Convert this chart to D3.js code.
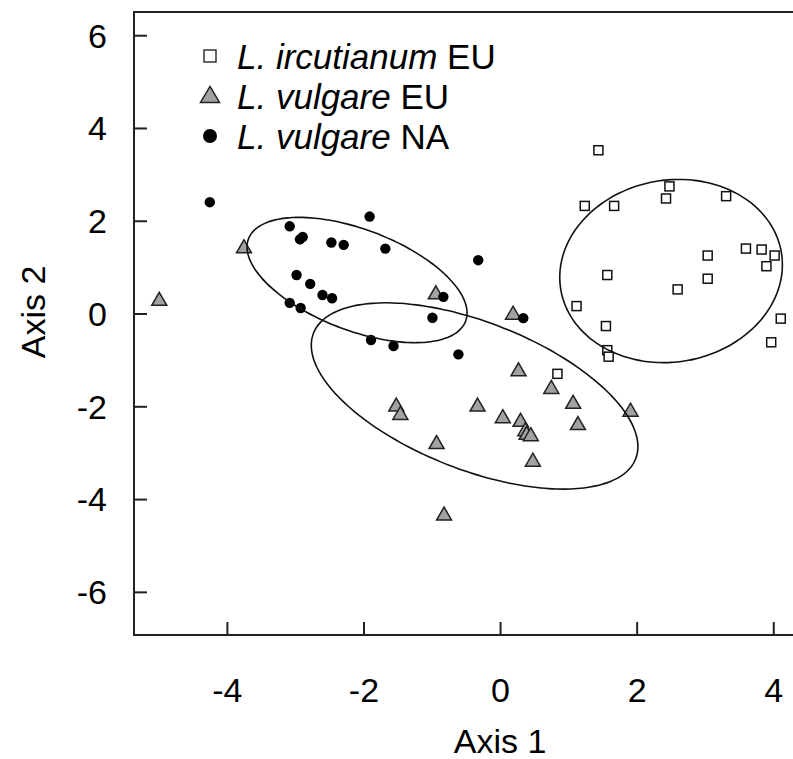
<!DOCTYPE html>
<html>
<head>
<meta charset="utf-8">
<script src="https://cdn.jsdelivr.net/npm/d3@7"></script>
<style>
  html, body { margin: 0; padding: 0; background: #fff; }
  svg { display: block; }
  text { font-family: "Liberation Sans", Arial, Helvetica, sans-serif; fill: #000; }
</style>
</head>
<body>
<svg id="chart" width="793" height="759"></svg>
<script>
// ---- data ----
const irX = [1.44,2.48,2.43,3.31,1.24,1.67,3.60,3.83,4.02,3.90,3.04,3.04,2.60,1.57,1.12,4.11,3.97,1.55,1.57,1.59,0.84];
const irY = [3.52,2.74,2.48,2.53,2.32,2.32,1.40,1.38,1.25,1.02,1.25,0.75,0.52,0.83,0.16,-0.11,-0.62,-0.27,-0.79,-0.93,-1.30];

const euX = [-4.99,-3.75,-0.94,0.19,0.27,0.75,1.07,1.91,1.14,-1.52,-1.46,-0.33,0.04,0.30,0.37,0.39,0.45,0.48,-0.93,-0.82];
const euY = [0.29,1.42,0.43,-0.01,-1.23,-1.61,-1.93,-2.10,-2.39,-1.99,-2.17,-1.99,-2.24,-2.32,-2.52,-2.60,-2.63,-3.18,-2.80,-4.34];

const naX = [-4.25,-3.08,-2.93,-2.89,-2.47,-2.29,-1.91,-1.68,-0.32,-2.98,-2.78,-2.60,-2.46,-3.08,-2.92,-0.83,-0.99,-1.89,-1.56,-0.61,0.34];
const naY = [2.40,1.88,1.60,1.65,1.53,1.48,2.09,1.40,1.15,0.83,0.64,0.40,0.33,0.23,0.12,0.36,-0.09,-0.57,-0.70,-0.88,-0.10];

// ellipses: center [x, y] and covariance [xx, xy, yy] in data units
const ellipseCenters = [[2.504, 0.916], [-0.373, -1.777], [-2.094, 0.722]];
const ellipseCov = [[2.656, 0.221, 3.898], [5.717, -2.611, 4.031], [2.594, -1.145, 1.824]];

const xTicks = [-4, -2, 0, 2, 4];
const yTicks = [-6, -4, -2, 0, 2, 4, 6];
const legendLabels = [
  { italic: "L. ircutianum", plain: " EU", shape: "square" },
  { italic: "L. vulgare", plain: " EU", shape: "triangle" },
  { italic: "L. vulgare", plain: " NA", shape: "dot" }
];
const xTitle = "Axis 1";
const yTitle = "Axis 2";

// ---- layout ----
const svg = d3.select("#chart");
const leftPx = 134, topPx = 12, bottomPx = 635, rightPx = 807.4;
const x = d3.scaleLinear().domain([-5.36, 4.5]).range([leftPx, rightPx]);
const y = d3.scaleLinear().domain([-6.93, 6.5]).range([bottomPx, topPx]);
const axisColor = "#222";
const fs = 34;

// frame (top, left, bottom; right side lies off-canvas)
svg.append("path")
  .attr("d", `M${rightPx},${topPx}H${leftPx}V${bottomPx}H${rightPx}`)
  .attr("fill", "none").attr("stroke", axisColor).attr("stroke-width", 2);

// axes
const gx = svg.append("g").attr("transform", `translate(0,${bottomPx})`)
  .call(d3.axisBottom(x).tickValues(xTicks).tickSize(-13).tickPadding(43));
const gy = svg.append("g").attr("transform", `translate(${leftPx},0)`)
  .call(d3.axisLeft(y).tickValues(yTicks).tickSize(-13).tickPadding(27));
[gx, gy].forEach(g => {
  g.select(".domain").remove();
  g.selectAll(".tick line").attr("stroke", axisColor).attr("stroke-width", 2);
  g.selectAll(".tick text").attr("font-size", fs)
    .attr("font-family", "Liberation Sans, Arial, sans-serif").attr("fill", "#000")
    .text(d => String(d));
});
gy.selectAll(".tick text").attr("dy", "0.35em");

// axis titles
svg.append("text").attr("x", 500).attr("y", 753)
  .attr("text-anchor", "middle").attr("font-size", fs).text(xTitle);
svg.append("text").attr("transform", "translate(45,312) rotate(-90)")
  .attr("text-anchor", "middle").attr("font-size", fs).text(yTitle);

// ---- points ----
const plot = svg.append("g");
plot.selectAll("rect.ir").data(d3.zip(irX, irY)).join("rect")
  .attr("class", "ir")
  .attr("x", d => x(d[0]) - 4.5).attr("y", d => y(d[1]) - 4.5)
  .attr("width", 9).attr("height", 9)
  .attr("fill", "#fff").attr("stroke", "#111").attr("stroke-width", 1.5);

const tri = (w, h) => `M0,${-h * 0.6}L${w / 2},${h * 0.4}L${-w / 2},${h * 0.4}Z`;
plot.selectAll("path.eu").data(d3.zip(euX, euY)).join("path")
  .attr("class", "eu")
  .attr("transform", d => `translate(${x(d[0])},${y(d[1])})`)
  .attr("d", tri(15, 13))
  .attr("fill", "#a2a2a2").attr("stroke", "#222").attr("stroke-width", 1.5);

plot.selectAll("circle.na").data(d3.zip(naX, naY)).join("circle")
  .attr("class", "na")
  .attr("cx", d => x(d[0])).attr("cy", d => y(d[1])).attr("r", 5.2)
  .attr("fill", "#000");

// ---- ellipses ----
function ellipsePoints(c, cov) {
  const l11 = Math.sqrt(cov[0]);
  const l21 = cov[1] / l11;
  const l22 = Math.sqrt(cov[2] - l21 * l21);
  return d3.range(0, 360, 3).map(a => {
    const t = a * Math.PI / 180;
    return [c[0] + l11 * Math.cos(t), c[1] + l21 * Math.cos(t) + l22 * Math.sin(t)];
  });
}
const lineGen = d3.line().x(d => x(d[0])).y(d => y(d[1])).curve(d3.curveCardinalClosed);
ellipseCenters.forEach((c, i) => {
  svg.append("path")
    .attr("d", lineGen(ellipsePoints(c, ellipseCov[i])))
    .attr("fill", "none").attr("stroke", "#111").attr("stroke-width", 1.6);
});

// ---- legend ----
const lg = svg.append("g");
const rowsY = [56, 96, 136];
legendLabels.forEach((l, i) => {
  const cy = rowsY[i], cx = 210;
  if (l.shape === "square") {
    lg.append("rect").attr("x", cx - 6).attr("y", cy - 6).attr("width", 12).attr("height", 12)
      .attr("fill", "#fff").attr("stroke", "#333").attr("stroke-width", 1.5);
  } else if (l.shape === "triangle") {
    lg.append("path").attr("transform", `translate(${cx},${cy})`).attr("d", tri(19, 16))
      .attr("fill", "#a2a2a2").attr("stroke", "#222").attr("stroke-width", 1.5);
  } else {
    lg.append("circle").attr("cx", cx).attr("cy", cy).attr("r", 7).attr("fill", "#000");
  }
  const t = lg.append("text").attr("x", 237).attr("y", cy).attr("dy", "0.36em").attr("font-size", 35);
  t.append("tspan").attr("font-style", "italic").text(l.italic);
  t.append("tspan").text(l.plain);
});
</script>
</body>
</html>
